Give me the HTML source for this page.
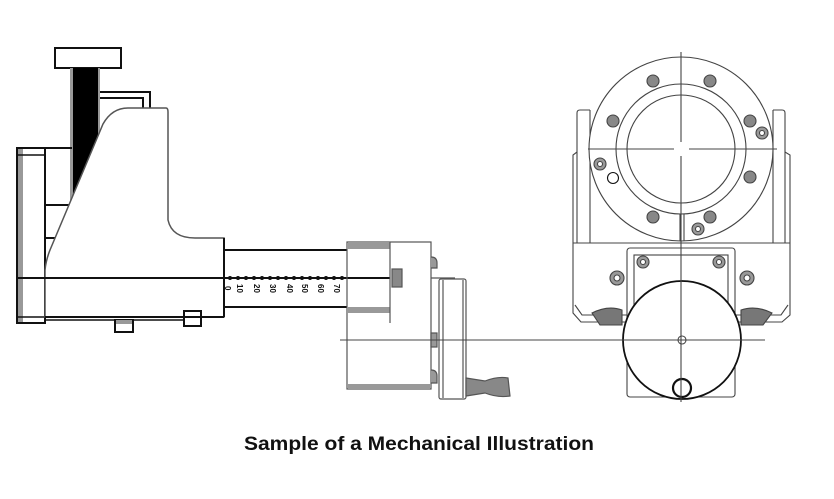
<!DOCTYPE html>
<html><head><style>body{margin:0;background:#fff}svg{display:block}</style></head><body>
<svg width="834" height="499" viewBox="0 0 834 499" xmlns="http://www.w3.org/2000/svg" fill="none" stroke="#111" stroke-width="1.5">
<rect width="834" height="499" fill="#fff" stroke="none"/>
<!-- left assembly -->
<rect x="55" y="48" width="66" height="20" stroke-width="2"/>
<rect x="70" y="68" width="30" height="135" fill="#999" stroke="none"/>
<polygon points="73,68 98,68 98,136 73,200" fill="#000" stroke="none"/>
<polyline points="100,92 150,92 150,108" stroke-width="2"/>
<polyline points="100,98 143,98 143,108" stroke-width="2"/>
<rect x="17" y="148" width="28" height="175" stroke-width="2"/>
<rect x="18" y="149" width="5" height="173" fill="#999" stroke="none"/>
<line x1="17" y1="155" x2="45" y2="155"/>
<line x1="17" y1="317" x2="45" y2="317"/>
<line x1="45" y1="148" x2="72" y2="148" stroke-width="2"/>
<line x1="45" y1="205" x2="70" y2="205" stroke-width="2"/>
<line x1="45" y1="238" x2="56" y2="238" stroke-width="2"/>
<path d="M45,317 L45,270 Q46,260 50,250 L103,124 Q112,108 128,108 L166,108 Q168,108 168,112 L168,220 Q172,238 195,238 L224,238 L224,317 Z" fill="#fff" stroke="#555" stroke-width="1.5"/>
<line x1="45" y1="317" x2="224" y2="317" stroke-width="2"/>
<line x1="224" y1="238" x2="224" y2="317" stroke-width="2"/>
<line x1="45" y1="320" x2="185" y2="320" stroke-width="1.5"/>
<rect x="115" y="320" width="18" height="12" stroke-width="2"/>
<rect x="116" y="320" width="16" height="4" fill="#999" stroke="none"/>
<rect x="184" y="311" width="17" height="15" stroke-width="2"/>
<line x1="17" y1="278" x2="390" y2="278" stroke-width="2"/>
<line x1="224" y1="250" x2="347" y2="250" stroke-width="2"/>
<line x1="224" y1="307" x2="347" y2="307" stroke-width="2"/>
<g fill="#111" stroke="none">
<circle cx="230" cy="278" r="2"/><circle cx="238" cy="278" r="2"/><circle cx="246" cy="278" r="2"/><circle cx="254" cy="278" r="2"/><circle cx="262" cy="278" r="2"/><circle cx="270" cy="278" r="2"/><circle cx="278" cy="278" r="2"/><circle cx="286" cy="278" r="2"/><circle cx="294" cy="278" r="2"/><circle cx="302" cy="278" r="2"/><circle cx="310" cy="278" r="2"/><circle cx="318" cy="278" r="2"/><circle cx="326" cy="278" r="2"/><circle cx="334" cy="278" r="2"/><circle cx="342" cy="278" r="2"/>
</g>
<g fill="#111" stroke="none" font-family="Liberation Sans, sans-serif" font-size="8" font-weight="bold">
<text transform="translate(225,286) rotate(90)">0</text>
<text transform="translate(237,284) rotate(90)">10</text>
<text transform="translate(254,284) rotate(90)">20</text>
<text transform="translate(270,284) rotate(90)">30</text>
<text transform="translate(287,284) rotate(90)">40</text>
<text transform="translate(302,284) rotate(90)">50</text>
<text transform="translate(318,284) rotate(90)">60</text>
<text transform="translate(334,284) rotate(90)">70</text>
</g>
<!-- middle box -->
<g stroke="#555" stroke-width="1.2">
<rect x="347" y="242" width="84" height="147"/>
<rect x="348" y="243" width="42" height="6" fill="#999" stroke="none"/>
<rect x="348" y="307" width="42" height="6" fill="#999" stroke="none"/>
<rect x="348" y="384" width="82" height="4" fill="#999" stroke="none"/>
<line x1="390" y1="242" x2="390" y2="323"/>
<rect x="392" y="269" width="10" height="18" fill="#888"/>
<path d="M431,257 Q437,257 437,263 L437,268 L431,268" fill="#999"/>
<path d="M431,370 Q437,370 437,376 L437,383 L431,383" fill="#999"/>
<rect x="431" y="333" width="6" height="14" fill="#999"/>
<rect x="439" y="279" width="27" height="120" rx="2" fill="#fff"/>
<line x1="443" y1="280" x2="443" y2="398"/>
<line x1="463" y1="280" x2="463" y2="398"/>
<line x1="431" y1="278" x2="455" y2="278"/>
<path d="M466,378 L485,381 Q498,376 508,378 L510,396 Q498,398 485,393 L466,396 Z" fill="#888"/>
</g>
<line x1="340" y1="340" x2="748" y2="340" stroke="#444" stroke-width="1"/>
<!-- right assembly -->
<g stroke="#444" stroke-width="1.1">
<path d="M577,243 L577,113 Q577,110 580,110 L590,110 M590,110 L590,243"/>
<path d="M785,243 L785,113 Q785,110 782,110 L773,110 M773,110 L773,243"/>
<path d="M577,152 L573,155 L573,313 L581,322 L627,322"/>
<path d="M785,152 L790,155 L790,315 L782,322 L735,322"/>
<path d="M573,243 L790,243"/>
<path d="M575,305 L582,315 L627,315 M788,305 L781,315 L735,315"/>
<path d="M592,313 Q608,305 622,310 L622,325 L600,325 Z M741,310 Q756,305 772,313 L763,325 L741,325 Z" fill="#777"/>
<rect x="627" y="248" width="108" height="149" rx="3" fill="#fff"/>
<rect x="634" y="255" width="94" height="85" fill="#fff"/>
<circle cx="681" cy="149" r="92" fill="#fff"/>
<circle cx="681" cy="149" r="65"/>
<circle cx="681" cy="149" r="54"/>
<line x1="680" y1="214" x2="680" y2="241"/><line x1="684" y1="214" x2="684" y2="241"/>
<line x1="588" y1="149" x2="777" y2="149"/>
<circle cx="682" cy="340" r="59" fill="#fff" stroke="#111" stroke-width="1.8"/>
<line x1="600" y1="340" x2="765" y2="340"/>
<circle cx="682" cy="340" r="4"/>
<circle cx="682" cy="388" r="9" stroke="#111" stroke-width="2.2"/>
<line x1="681" y1="52" x2="681" y2="402"/>
<line x1="674" y1="149" x2="689" y2="149" stroke="#fff" stroke-width="3"/>
<line x1="681" y1="142" x2="681" y2="156" stroke="#fff" stroke-width="3"/>
<g fill="#888">
<circle cx="653" cy="81" r="6"/><circle cx="710" cy="81" r="6"/>
<circle cx="613" cy="121" r="6"/><circle cx="750" cy="121" r="6"/>
<circle cx="750" cy="177" r="6"/><circle cx="653" cy="217" r="6"/><circle cx="710" cy="217" r="6"/>
</g>
<g fill="#999">
<circle cx="762" cy="133" r="6"/><circle cx="600" cy="164" r="6"/><circle cx="698" cy="229" r="6"/>
<circle cx="643" cy="262" r="6"/><circle cx="719" cy="262" r="6"/>
<circle cx="617" cy="278" r="7"/><circle cx="747" cy="278" r="7"/>
</g>
<g fill="#fff">
<circle cx="762" cy="133" r="2.5"/><circle cx="600" cy="164" r="2.5"/><circle cx="698" cy="229" r="2.5"/>
<circle cx="643" cy="262" r="2.5"/><circle cx="719" cy="262" r="2.5"/>
<circle cx="617" cy="278" r="3"/><circle cx="747" cy="278" r="3"/>
<circle cx="613" cy="178" r="5.5" stroke="#111"/>
</g>
</g>
<text x="419" y="450" text-anchor="middle" fill="#111" stroke="none" font-family="Liberation Sans, sans-serif" font-size="19" font-weight="bold" textLength="350" lengthAdjust="spacingAndGlyphs">Sample of a Mechanical Illustration</text>
</svg>
</body></html>
